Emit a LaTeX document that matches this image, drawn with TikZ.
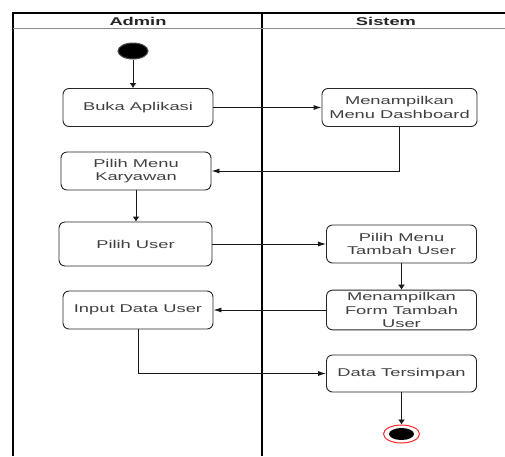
\documentclass[tikz,border=0pt]{standalone}
\usepackage{fontspec}
\setmainfont[FakeStretch=1.62]{Liberation Sans}
\usetikzlibrary{arrows.meta,shapes.geometric}
\tikzset{
  act/.style={draw=black!85, line width=0.9pt, rounded corners=6pt, align=center,
    minimum width=150pt, minimum height=38pt, inner sep=2pt, text=black!75,
    font=\fontsize{11.3}{13.7}\selectfont},
  flow/.style={draw=black!90, line width=0.9pt},
  harrow/.style={flow, -{Latex[length=8pt,width=5pt]}},
  varrow/.style={flow, -{Latex[length=5pt,width=7pt]}},
  lane/.style={draw=black, line width=1.5pt},
  lanehead/.style={font=\fontsize{11.3}{13.7}\selectfont\bfseries, text=black!85}
}
\begin{document}
\begin{tikzpicture}[x=1pt,y=-1pt]
\useasboundingbox (0,0) rectangle (505,456);
% swimlanes
\draw[lane] (505,13) -- (13,13) -- (13,456);
\draw[lane] (262,13) -- (262,456);
\draw[draw=black!45, line width=1.2pt] (13,28.5) -- (505,28.5);
\node[lanehead] (hadmin) at (138,21) {Admin};
\node[lanehead] (hsistem) at (386,21) {Sistem};
% start / end
\node[ellipse, fill=black, draw=black!70, line width=1pt, minimum width=30pt, minimum height=16pt, inner sep=0pt] (start) at (133,51) {};
\node[ellipse, draw=red!85, line width=1pt, minimum width=36pt, minimum height=18pt, inner sep=0pt] (endring) at (401.5,434) {};
\node[ellipse, fill=black, minimum width=25pt, minimum height=12pt, inner sep=0pt] (end) at (401.5,434) {};
% activities
\node[act] (buka) at (138,107.5) {Buka Aplikasi};
\node[act, minimum width=155pt] (dash) at (399.5,107.5) {Menampilkan\\Menu Dashboard};
\node[act] (kary) at (136,171) {Pilih Menu\\Karyawan};
\node[act, minimum width=153pt, minimum height=44pt] (user) at (135.5,244) {Pilih User};
\node[act] (tambah) at (401.5,244) {Pilih Menu\\Tambah User};
\node[act] (form) at (401.5,310) {Menampilkan\\Form Tambah\\User};
\node[act] (input) at (138,310) {Input Data User};
\node[act, minimum height=37pt] (simpan) at (401.5,373.5) {Data Tersimpan};
% connectors
\draw[varrow] (start) -- (start |- buka.north);
\draw[harrow] (buka) -- (dash);
\draw[harrow] (dash.south) |- (kary.east);
\draw[varrow] (kary.south) -- (kary.south |- user.north);
\draw[harrow] (user) -- (tambah);
\draw[varrow] (tambah) -- (form);
\draw[harrow] (form) -- (input);
\draw[harrow] (input.south) |- (simpan.west);
\draw[varrow] (simpan) -- (endring);
\end{tikzpicture}
\end{document}
